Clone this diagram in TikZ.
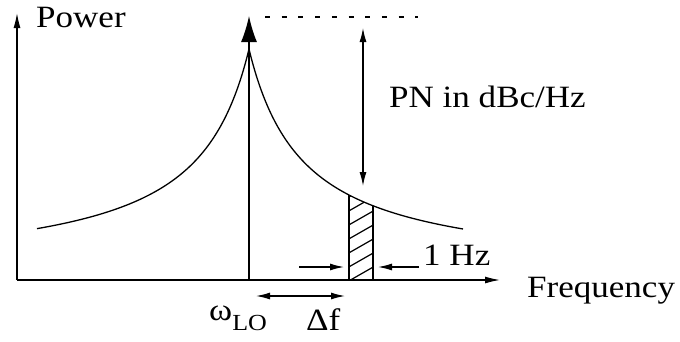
\documentclass[tikz,border=0pt]{standalone}
\usepackage{fontspec}
\setmainfont{Liberation Serif}
\usetikzlibrary{arrows.meta}
\newcommand{\sx}[1]{\scalebox{1.13}[1]{#1}}
\begin{document}
\begin{tikzpicture}[x=1pt,y=-1pt,
  axis/.style={line width=1.3pt,-{Latex[length=15pt,width=7pt]}},
  curve/.style={line width=1.3pt},
  lbl/.style={inner sep=0pt,font=\fontsize{31}{31}\selectfont},
  dim/.style={line width=1.3pt,-{Latex[length=14pt,width=7pt]}},
  dimtwo/.style={line width=1.3pt,{Latex[length=14pt,width=7pt]}-{Latex[length=14pt,width=7pt]}}]
\useasboundingbox (0,0) rectangle (680,341);
% axes
\coordinate (O) at (17,280);
\coordinate (Ytop) at (17,13);
\coordinate (Xend) at (500,280);
\draw[axis] (O) -- (Ytop);
\draw[axis] (O) -- (Xend);
% spectrum curve
\draw[curve] plot[domain=-212:0,samples=120] ({249+\x},{280-4.8-12432/(-\x+55)});
\draw[curve] plot[domain=0:214,samples=120] ({249+\x},{280-4.8-12432/(\x+55)});
% hatched strip
\begin{scope}
\clip (349,280) -- plot[domain=100:124,samples=20] ({249+\x},{280-4.8-12432/(\x+55)}) -- (373,280) -- cycle;
\foreach \k in {0,...,8} {
  \draw[line width=1.2pt] (340,{300-14*\k}) -- (382,{276-14*\k});
}
\end{scope}
\draw[line width=1.3pt] (349,{280-4.8-12432/155}) -- (349,280) -- (373,280) -- (373,{280-4.8-12432/179});
% carrier
\coordinate (Cbase) at (249,280);
\coordinate (Ctop) at (249,16);
\draw[line width=1.3pt,-{Latex[length=26pt,width=16pt]}] (Cbase) -- (Ctop);
% dotted reference
\coordinate (Da) at (265,17);
\coordinate (Db) at (418,17);
\draw[line width=1.2pt,dash pattern=on 5pt off 11.7pt] (Da) -- (Db);
% PN arrow
\coordinate (PNa) at (363,28);
\coordinate (PNb) at (363,186);
\draw[dimtwo] (PNa) -- (PNb);
% 1 Hz arrows
\coordinate (Ha) at (299,267);
\coordinate (Hb) at (344,267);
\coordinate (Hc) at (419,267);
\coordinate (Hd) at (378,267);
\draw[dim] (Ha) -- (Hb);
\draw[dim] (Hc) -- (Hd);
% delta f arrow
\coordinate (Fa) at (256,296);
\coordinate (Fb) at (345,296);
\draw[dimtwo] (Fa) -- (Fb);
% labels
\node[lbl,anchor=base west] (power) at (36,27) {\sx{Power}};
\node[lbl,anchor=base west] (pn) at (389,107) {\sx{PN in dBc/Hz}};
\node[lbl,anchor=base west] (hz) at (423,265) {\sx{1 Hz}};
\node[lbl,anchor=base west] (freq) at (527,297) {\sx{Frequency}};
\node[lbl,anchor=base west] (wlo) at (209,320) {\sx{ω\raisebox{-0.33em}{\fontsize{23}{23}\selectfont LO}}};
\node[lbl,anchor=base west] (df) at (306,330) {\sx{Δf}};
\end{tikzpicture}
\end{document}
